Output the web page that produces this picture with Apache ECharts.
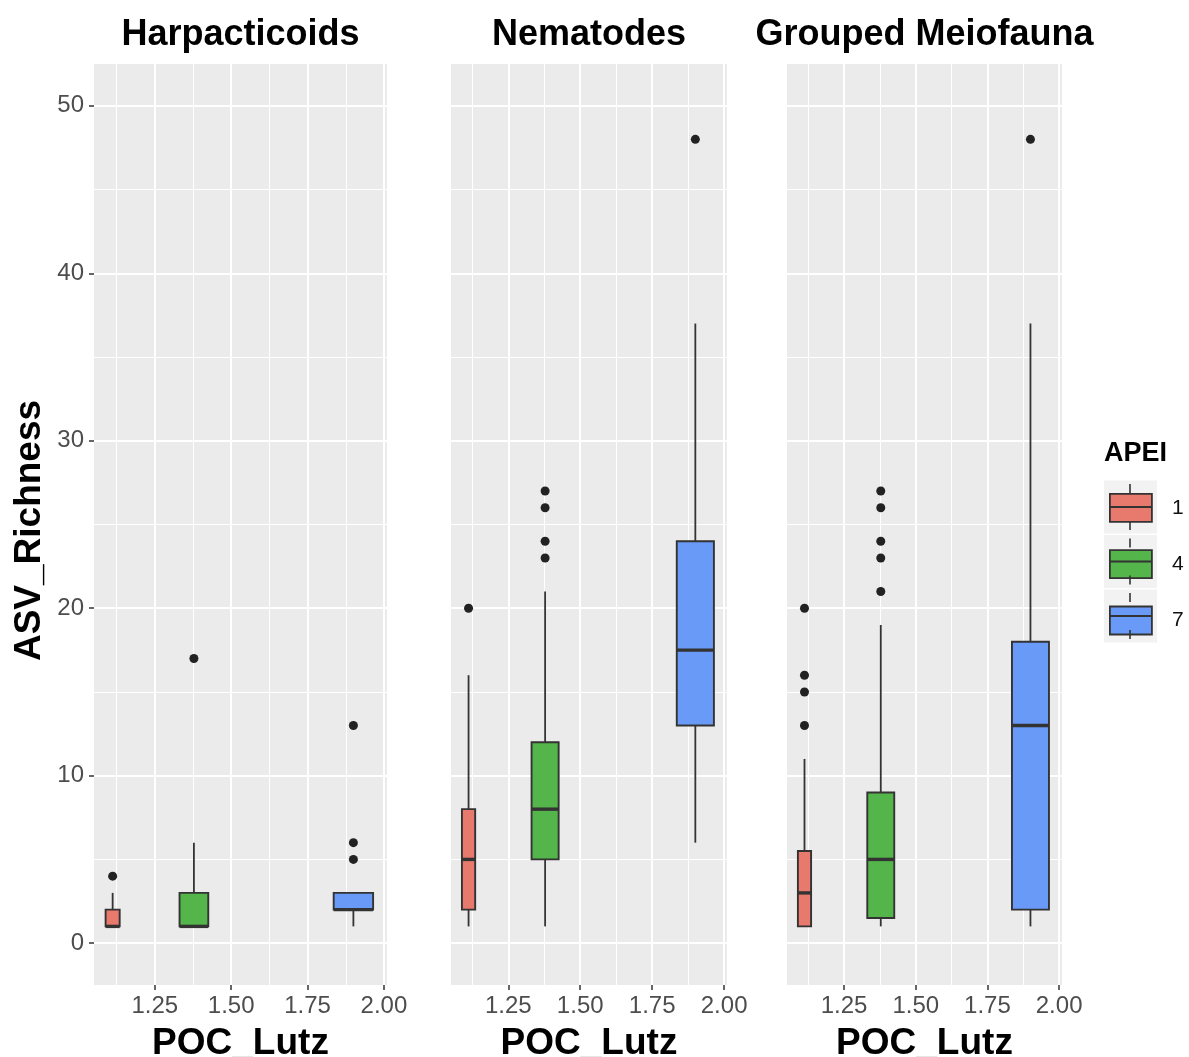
<!DOCTYPE html>
<html>
<head>
<meta charset="utf-8">
<script src="https://cdn.jsdelivr.net/npm/echarts@6/dist/echarts.min.js"></script>
<style>
  html, body { margin: 0; padding: 0; background: #ffffff; }
  #chart { width: 1189px; height: 1057px; }
</style>
</head>
<body>
<div id="chart"></div>
<script>
// ---- data ----
const panelTitles = ['Harpacticoids', 'Nematodes', 'Grouped Meiofauna'];
const apeiLevels = ['1', '4', '7'];
const pocLutz = [1.112, 1.378, 1.900];

// box summaries per APEI: [lower whisker, Q1, median, Q3, upper whisker]
const harpacticoidBoxes = [[1, 1, 1, 2, 3], [1, 1, 1, 3, 6], [1, 2, 2, 3, 3]];
const harpacticoidOutliers = [[4], [17], [5, 6, 13]];
const nematodeBoxes = [[1, 2, 5, 8, 16], [1, 5, 8, 12, 21], [6, 13, 17.5, 24, 37]];
const nematodeOutliers = [[20], [23, 24, 26, 27], [48]];
const meiofaunaBoxes = [[1, 1, 3, 5.5, 11], [1, 1.5, 5, 9, 19], [1, 2, 13, 18, 37]];
const meiofaunaOutliers = [[13, 15, 16, 20], [21, 23, 24, 26, 27], [48]];

const xTicks = [1.25, 1.5, 1.75, 2.0];
const xMinorTicks = [1.125, 1.375, 1.625, 1.875];
const yTicks = [0, 10, 20, 30, 40, 50];
const yMinorTicks = [5, 15, 25, 35, 45];

// ---- layout & style ----
const FONT = '"Liberation Sans", Arial, Helvetica, sans-serif';
const panelRects = [
  { left: 94, width: 293 },
  { left: 451, width: 276 },
  { left: 787, width: 275 }
];
const PANEL_TOP = 64;
const PANEL_HEIGHT = 921;
const X_RANGE = [1.051, 2.010];
const Y_RANGE = [-2.5, 52.5];
const boxWidths = [0.046, 0.094, 0.129];
const fills = ['#E8796D', '#53B54A', '#6A9AF7'];
const INK = '#333333';

const panelBoxes = [harpacticoidBoxes, nematodeBoxes, meiofaunaBoxes];
const panelOutliers = [harpacticoidOutliers, nematodeOutliers, meiofaunaOutliers];

function boxRenderer(halfWidth) {
  return function (params, api) {
    const x = api.value(0);
    const lo = api.value(1), q1 = api.value(2), med = api.value(3), q3 = api.value(4), hi = api.value(5);
    const tl = api.coord([x - halfWidth, q3]);
    const br = api.coord([x + halfWidth, q1]);
    const mid = api.coord([x, med]);
    const pLo = api.coord([x, lo]);
    const pHi = api.coord([x, hi]);
    const edge = { stroke: INK, lineWidth: 1.8 };
    return {
      type: 'group',
      children: [
        { type: 'line', shape: { x1: mid[0], y1: br[1], x2: mid[0], y2: pLo[1] }, style: edge },
        { type: 'line', shape: { x1: mid[0], y1: tl[1], x2: mid[0], y2: pHi[1] }, style: edge },
        { type: 'rect', shape: { x: tl[0], y: tl[1], width: br[0] - tl[0], height: br[1] - tl[1] },
          style: { fill: api.visual('color'), stroke: INK, lineWidth: 1.9 } },
        { type: 'line', shape: { x1: tl[0], y1: mid[1], x2: br[0], y2: mid[1] }, style: { stroke: INK, lineWidth: 3.4 } }
      ]
    };
  };
}

const grids = [], xAxes = [], yAxes = [], series = [], titles = [];

panelTitles.forEach((title, p) => {
  const r = panelRects[p];
  grids.push({
    left: r.left, top: PANEL_TOP, width: r.width, height: PANEL_HEIGHT,
    containLabel: false, outerBoundsMode: 'none',
    show: true, backgroundColor: '#EBEBEB', borderWidth: 0
  });
  titles.push({
    text: title, left: r.left + r.width / 2, top: 17, textAlign: 'center', padding: 0,
    textStyle: { fontFamily: FONT, fontSize: 36, fontWeight: 'bold', color: '#000000' }
  });

  // major x axis
  xAxes.push({
    type: 'value', gridIndex: p, position: 'bottom', min: X_RANGE[0], max: X_RANGE[1],
    axisLine: { show: false, onZero: false },
    axisTick: { show: true, customValues: xTicks, length: 5, lineStyle: { color: INK, width: 1.5 } },
    axisLabel: { show: true, customValues: xTicks, margin: 9, fontFamily: FONT, fontSize: 24, color: '#4D4D4D',
      formatter: v => v.toFixed(2) },
    splitLine: { show: true, lineStyle: { color: '#FFFFFF', width: 2 } },
    name: 'POC_Lutz', nameLocation: 'middle', nameGap: 40,
    nameTextStyle: { fontFamily: FONT, fontSize: 37, fontWeight: 'bold', color: '#000000' }
  });
  // minor x grid
  xAxes.push({
    type: 'value', gridIndex: p, position: 'top', min: X_RANGE[0], max: X_RANGE[1],
    axisLine: { show: false, onZero: false },
    axisTick: { show: false, customValues: xMinorTicks },
    axisLabel: { show: false, customValues: xMinorTicks },
    splitLine: { show: true, lineStyle: { color: '#FFFFFF', width: 1 } }
  });

  const first = p === 0;
  yAxes.push({
    type: 'value', gridIndex: p, position: 'left', min: Y_RANGE[0], max: Y_RANGE[1],
    axisLine: { show: false, onZero: false },
    axisTick: { show: first, customValues: yTicks, length: 5, lineStyle: { color: INK, width: 1.5 } },
    axisLabel: { show: first, customValues: yTicks, margin: 10, fontFamily: FONT, fontSize: 24, color: '#4D4D4D' },
    splitLine: { show: true, lineStyle: { color: '#FFFFFF', width: 2 } },
    name: first ? 'ASV_Richness' : '', nameLocation: 'middle', nameGap: 46, nameRotate: 90,
    nameTextStyle: { fontFamily: FONT, fontSize: 37, fontWeight: 'bold', color: '#000000', padding: [0, 12, 0, 0] }
  });
  yAxes.push({
    type: 'value', gridIndex: p, position: 'right', min: Y_RANGE[0], max: Y_RANGE[1],
    axisLine: { show: false, onZero: false },
    axisTick: { show: false, customValues: yMinorTicks },
    axisLabel: { show: false, customValues: yMinorTicks },
    splitLine: { show: true, lineStyle: { color: '#FFFFFF', width: 1 } }
  });

  panelBoxes[p].forEach((b, li) => {
    series.push({
      type: 'custom', name: apeiLevels[li],
      xAxisIndex: p * 2, yAxisIndex: p * 2,
      itemStyle: { color: fills[li] },
      encode: { x: 0, y: [1, 2, 3, 4, 5] },
      data: [[pocLutz[li]].concat(b)],
      renderItem: boxRenderer(boxWidths[li] / 2),
      silent: true, z: 3
    });
  });

  const pts = [];
  panelOutliers[p].forEach((vals, li) => vals.forEach(v => pts.push([pocLutz[li], v])));
  series.push({
    type: 'scatter', name: 'outlier', xAxisIndex: p * 2, yAxisIndex: p * 2,
    data: pts, symbol: 'circle', symbolSize: 9,
    itemStyle: { color: '#222222', opacity: 1 }, silent: true, z: 4
  });
});

titles.push({
  text: 'APEI', left: 1104, top: 440, padding: 0,
  textStyle: { fontFamily: FONT, fontSize: 27, fontWeight: 'bold', color: '#000000' }
});

// legend key backdrop, whiskers and median bars
const keyCenters = [507, 561.5, 616];
const keyGraphics = [];
keyCenters.forEach(c => {
  keyGraphics.push({ type: 'rect', z: 1, shape: { x: 1104, y: c - 26.5, width: 53, height: 53 }, style: { fill: '#F2F2F2' } });
  keyGraphics.push({ type: 'line', z: 10, shape: { x1: 1130, y1: c - 23, x2: 1130, y2: c - 14 }, style: { stroke: INK, lineWidth: 1.6 } });
  keyGraphics.push({ type: 'line', z: 10, shape: { x1: 1130, y1: c + 14, x2: 1130, y2: c + 23 }, style: { stroke: INK, lineWidth: 1.6 } });
  keyGraphics.push({ type: 'line', z: 10, shape: { x1: 1109, y1: c, x2: 1151, y2: c }, style: { stroke: INK, lineWidth: 2 } });
});

const chart = echarts.init(document.getElementById('chart'), null, { renderer: 'canvas' });
chart.setOption({
  animation: false,
  backgroundColor: '#FFFFFF',
  title: titles,
  grid: grids,
  xAxis: xAxes,
  yAxis: yAxes,
  legend: {
    data: apeiLevels, orient: 'vertical', left: 1109, top: 493, padding: 0,
    itemWidth: 42, itemHeight: 28, itemGap: 26.5, icon: 'rect', selectedMode: false,
    itemStyle: { borderColor: INK, borderWidth: 1.8 },
    textStyle: { fontFamily: FONT, fontSize: 21, color: '#111111', padding: [0, 0, 0, 15] }
  },
  graphic: { elements: keyGraphics },
  series: series
});
</script>
</body>
</html>
